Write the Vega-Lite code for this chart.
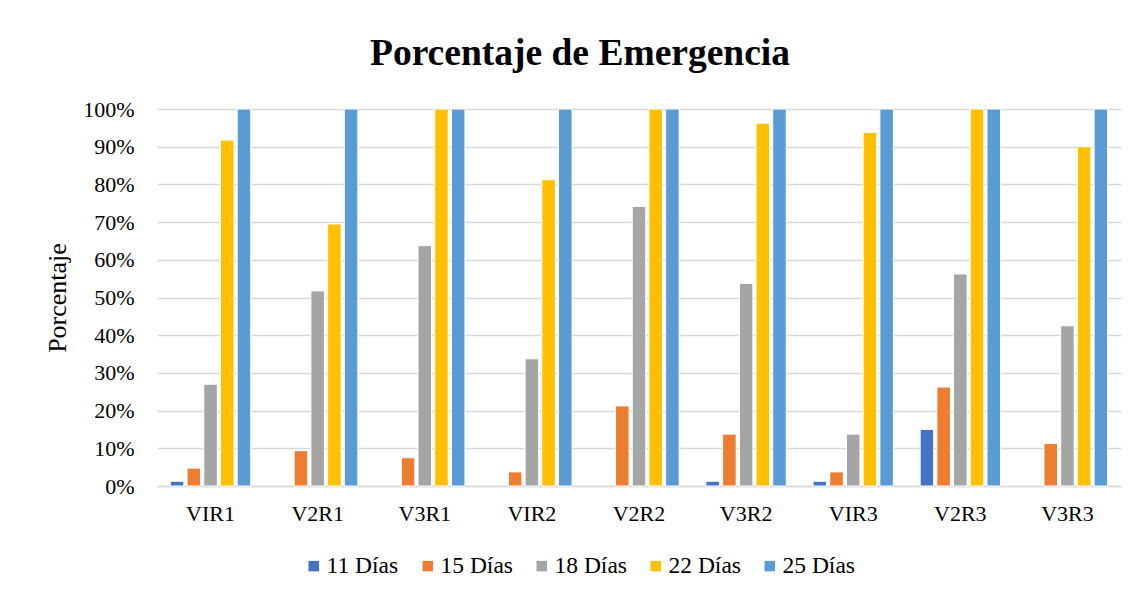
{
  "$schema": "https://vega.github.io/schema/vega-lite/v6.json",
  "width": 964,
  "height": 377,
  "autosize": {"type": "none"},
  "padding": {"left": 157, "top": 109, "right": 22, "bottom": 111},
  "background": "white",
  "title": {
    "text": "Porcentaje de Emergencia",
    "font": "Liberation Serif",
    "fontSize": 37.5,
    "fontWeight": "bold",
    "color": "#000000",
    "anchor": "middle",
    "dx": -59,
    "offset": 26
  },
  "data": {
    "values": [
      {"trat": "VIR1", "dias": "11 Días", "pct": 0.0125},
      {"trat": "VIR1", "dias": "15 Días", "pct": 0.0475},
      {"trat": "VIR1", "dias": "18 Días", "pct": 0.27},
      {"trat": "VIR1", "dias": "22 Días", "pct": 0.9175},
      {"trat": "VIR1", "dias": "25 Días", "pct": 1.0},
      {"trat": "V2R1", "dias": "11 Días", "pct": 0},
      {"trat": "V2R1", "dias": "15 Días", "pct": 0.0938},
      {"trat": "V2R1", "dias": "18 Días", "pct": 0.5175},
      {"trat": "V2R1", "dias": "22 Días", "pct": 0.695},
      {"trat": "V2R1", "dias": "25 Días", "pct": 1.0},
      {"trat": "V3R1", "dias": "11 Días", "pct": 0},
      {"trat": "V3R1", "dias": "15 Días", "pct": 0.075},
      {"trat": "V3R1", "dias": "18 Días", "pct": 0.6375},
      {"trat": "V3R1", "dias": "22 Días", "pct": 1.0},
      {"trat": "V3R1", "dias": "25 Días", "pct": 1.0},
      {"trat": "VIR2", "dias": "11 Días", "pct": 0},
      {"trat": "VIR2", "dias": "15 Días", "pct": 0.0375},
      {"trat": "VIR2", "dias": "18 Días", "pct": 0.3375},
      {"trat": "VIR2", "dias": "22 Días", "pct": 0.8125},
      {"trat": "VIR2", "dias": "25 Días", "pct": 1.0},
      {"trat": "V2R2", "dias": "11 Días", "pct": 0},
      {"trat": "V2R2", "dias": "15 Días", "pct": 0.2125},
      {"trat": "V2R2", "dias": "18 Días", "pct": 0.7413},
      {"trat": "V2R2", "dias": "22 Días", "pct": 1.0},
      {"trat": "V2R2", "dias": "25 Días", "pct": 1.0},
      {"trat": "V3R2", "dias": "11 Días", "pct": 0.0125},
      {"trat": "V3R2", "dias": "15 Días", "pct": 0.1375},
      {"trat": "V3R2", "dias": "18 Días", "pct": 0.5375},
      {"trat": "V3R2", "dias": "22 Días", "pct": 0.9625},
      {"trat": "V3R2", "dias": "25 Días", "pct": 1.0},
      {"trat": "VIR3", "dias": "11 Días", "pct": 0.0125},
      {"trat": "VIR3", "dias": "15 Días", "pct": 0.0375},
      {"trat": "VIR3", "dias": "18 Días", "pct": 0.1375},
      {"trat": "VIR3", "dias": "22 Días", "pct": 0.9375},
      {"trat": "VIR3", "dias": "25 Días", "pct": 1.0},
      {"trat": "V2R3", "dias": "11 Días", "pct": 0.15},
      {"trat": "V2R3", "dias": "15 Días", "pct": 0.2625},
      {"trat": "V2R3", "dias": "18 Días", "pct": 0.5625},
      {"trat": "V2R3", "dias": "22 Días", "pct": 1.0},
      {"trat": "V2R3", "dias": "25 Días", "pct": 1.0},
      {"trat": "V3R3", "dias": "11 Días", "pct": 0},
      {"trat": "V3R3", "dias": "15 Días", "pct": 0.1125},
      {"trat": "V3R3", "dias": "18 Días", "pct": 0.425},
      {"trat": "V3R3", "dias": "22 Días", "pct": 0.9},
      {"trat": "V3R3", "dias": "25 Días", "pct": 1.0}
    ]
  },
  "transform": [{"filter": "datum.pct > 0"}],
  "mark": {"type": "bar", "stroke": "white", "strokeWidth": 1},
  "encoding": {
    "x": {
      "field": "trat",
      "type": "nominal",
      "sort": null,
      "scale": {"paddingInner": 0.25, "paddingOuter": 0.125},
      "axis": {
        "title": null,
        "labelAngle": 0,
        "labelFont": "Liberation Serif",
        "labelFontSize": 22,
        "labelColor": "#000000",
        "labelPadding": 17,
        "ticks": false,
        "domainColor": "#d9d9d9",
        "domainWidth": 1.5,
        "grid": false
      }
    },
    "xOffset": {
      "field": "dias",
      "type": "nominal",
      "scale": {"domain": ["11 Días", "15 Días", "18 Días", "22 Días", "25 Días"], "paddingInner": 0.19, "paddingOuter": 0}
    },
    "y": {
      "field": "pct",
      "type": "quantitative",
      "scale": {"domain": [0, 1], "nice": false},
      "axis": {
        "title": "Porcentaje",
        "titleFont": "Liberation Serif",
        "titleFontSize": 26,
        "titleFontWeight": "normal",
        "titleColor": "#000000",
        "titlePadding": 12,
        "format": ".0%",
        "values": [0, 0.1, 0.2, 0.3, 0.4, 0.5, 0.6, 0.7, 0.8, 0.9, 1.0],
        "labelFont": "Liberation Serif",
        "labelFontSize": 22,
        "labelColor": "#000000",
        "labelPadding": 23,
        "ticks": false,
        "domain": false,
        "gridColor": "#d9d9d9",
        "gridWidth": 1.5
      }
    },
    "color": {
      "field": "dias",
      "type": "nominal",
      "scale": {
        "domain": ["11 Días", "15 Días", "18 Días", "22 Días", "25 Días"],
        "range": ["#4472C4", "#ED7D31", "#A5A5A5", "#FFC000", "#5B9BD5"]
      },
      "legend": {
        "title": null,
        "orient": "none",
        "direction": "horizontal",
        "legendX": 145,
        "legendY": 445,
        "symbolType": "square",
        "symbolSize": 110,
        "symbolStrokeWidth": 0,
        "labelFont": "Liberation Serif",
        "labelFontSize": 23.5,
        "labelColor": "#000000",
        "labelOffset": 1,
        "columnPadding": 17
      }
    }
  },
  "config": {"view": {"stroke": null}}
}
